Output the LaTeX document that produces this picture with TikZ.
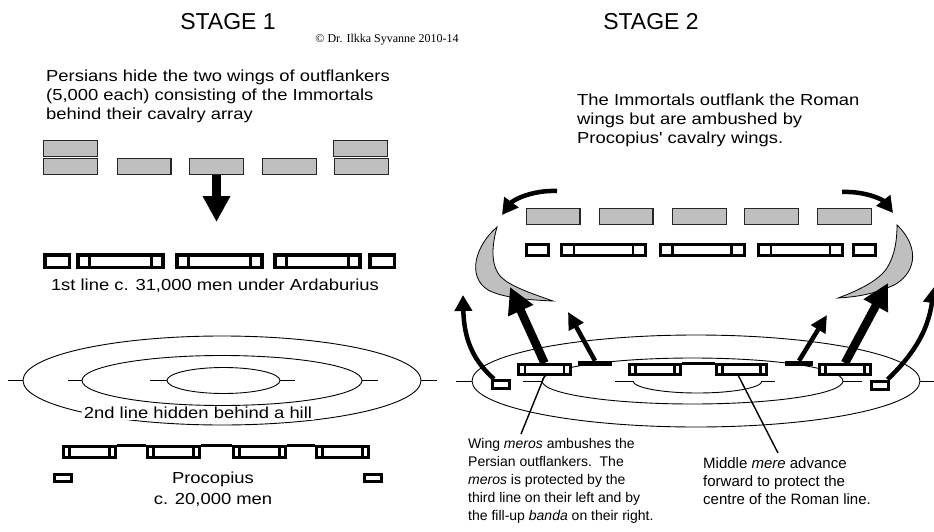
\documentclass[tikz,border=0pt]{standalone}
\usepackage{fontspec}
\setmainfont{Liberation Sans}
\newfontfamily\timesfont{Liberation Serif}
\newfontfamily\bodyfont[FakeStretch=1.15]{Liberation Sans}
\usetikzlibrary{arrows.meta}
\newcommand{\mydiv}[3][2.5pt]{%
  \draw[line width=#1] ([xshift=#3]#2.north west) -- ([xshift=#3]#2.south west);
  \draw[line width=#1] ([xshift=-#3]#2.north east) -- ([xshift=-#3]#2.south east);}
\begin{document}
\begin{tikzpicture}[x=1pt,y=-1pt,
  greybox/.style={draw=black!85, fill=black!25, line width=1.2pt, minimum width=53.8pt, minimum height=15.8pt, inner sep=0pt},
  romA/.style={draw, fill=white, line width=3.5pt, inner sep=0pt, minimum height=12.5pt},
  romB/.style={draw, fill=white, line width=3pt, inner sep=0pt, minimum height=11pt},
  romC/.style={draw, fill=white, line width=3pt, inner sep=0pt, minimum height=10pt, minimum width=51pt},
  smallbox/.style={draw, fill=white, line width=3pt, inner sep=0pt, minimum height=7.5pt, minimum width=17pt},
  bar/.style={fill=black, inner sep=0pt, minimum height=5pt},
  hill/.style={line width=0.9pt},
  title/.style={font=\fontsize{23}{27}\selectfont},
  body/.style={font=\bodyfont\fontsize{16}{19}\selectfont, inner sep=0pt},
  small/.style={font=\fontsize{14}{18}\selectfont, inner sep=0pt, align=left, anchor=north west},
  bigarrow/.style={line width=8.5pt, -{Triangle[width=26pt,length=26pt]}},
  midarrow/.style={line width=4.5pt, -{Triangle[width=16pt,length=17pt]}},
  curvearrow/.style={line width=4.5pt, -{Triangle[width=17pt,length=16pt]}},
  leader/.style={line width=1.4pt}]
\useasboundingbox (0,0) rectangle (934,532);

% ---------- titles ----------
\node[title] (st1) at (228,22) {STAGE 1};
\node[title] (st2) at (651,22) {STAGE 2};
\node[font=\timesfont\fontsize{12}{14}\selectfont, inner sep=0pt] (copy) at (387,40) {© Dr. Ilkka Syvanne 2010-14};

% ---------- STAGE 1 ----------
\node[body, align=left, anchor=north west] (txt1) at (46,70)
  {Persians hide the two wings of outflankers\\(5,000 each) consisting of the Immortals\\behind their cavalry array};

% Persian cavalry array
\node[greybox] (g1t) at (70.5,148.5) {};
\node[greybox] (g1b) at (70.5,166.5) {};
\node[greybox] (g2) at (144,166.5) {};
\node[greybox] (g3) at (216.5,166.5) {};
\node[greybox] (g4) at (289.5,166.5) {};
\node[greybox] (g5t) at (360.5,148.5) {};
\node[greybox] (g5b) at (361.5,166.5) {};

\coordinate (downtip) at (216.5,222);
\draw[bigarrow] (g3.south) -- (downtip);

% Roman first line
\node[romA, minimum width=24.5pt] (f1) at (57,261) {};
\node[romA, minimum width=85pt] (f2) at (120.5,261) {};
\node[romA, minimum width=85pt] (f3) at (219.5,261) {};
\node[romA, minimum width=85pt] (f4) at (317.5,261) {};
\node[romA, minimum width=24.5pt] (f5) at (382,261) {};
\mydiv[3pt]{f2}{13pt}
\mydiv[3pt]{f3}{13pt}
\mydiv[3pt]{f4}{13pt}
\node[body] (txt2) at (215,286) {1st line c. 31,000 men under Ardaburius};

% Hill
\draw[hill] (222,380.5) ellipse [x radius=199, y radius=44.5];
\draw[hill] (222,380.5) ellipse [x radius=140, y radius=25];
\draw[hill] (223.5,380.5) ellipse [x radius=56.5, y radius=13];
\draw[hill] (8,380.5) -- (23,380.5);
\draw[hill] (421,380.5) -- (437,380.5);
\draw[hill] (68,380.5) -- (82,380.5);
\draw[hill] (362,380.5) -- (378,380.5);
\draw[hill] (150,380.5) -- (167,380.5);
\draw[hill] (280,380.5) -- (295,380.5);
\node[body, fill=white, inner sep=1.5pt] (txt3) at (198,413) {2nd line hidden behind a hill};

% Roman second line
\node[romB, minimum width=52pt] (p1) at (89.5,452) {};
\node[romB, minimum width=52pt] (p2) at (173.5,452) {};
\node[romB, minimum width=52pt] (p3) at (259.5,452) {};
\node[romB, minimum width=52pt] (p4) at (342.5,452) {};
\mydiv{p1}{7.5pt}
\mydiv{p2}{7.5pt}
\mydiv{p3}{7.5pt}
\mydiv{p4}{7.5pt}
\draw[line width=3.5pt] ([yshift=-0.5pt]p1.north east) -- ([yshift=-0.5pt]p2.north west);
\draw[line width=3.5pt] ([yshift=-0.5pt]p2.north east) -- ([yshift=-0.5pt]p3.north west);
\draw[line width=3.5pt] ([yshift=-0.5pt]p3.north east) -- ([yshift=-0.5pt]p4.north west);
\node[smallbox] (q1) at (62.5,478) {};
\node[smallbox] (q2) at (372.5,478) {};
\node[body, align=center] (txt4) at (213,489.5) {Procopius\\[2pt]c. 20,000 men};

% ---------- STAGE 2 ----------
\node[body, align=left, anchor=north west] (txt5) at (577,94)
  {The Immortals outflank the Roman\\wings but are ambushed by\\Procopius' cavalry wings.};

% Persian cavalry array
\node[greybox] (h1) at (553,216.5) {};
\node[greybox] (h2) at (626,216.5) {};
\node[greybox] (h3) at (699.5,216.5) {};
\node[greybox] (h4) at (771.5,216.5) {};
\node[greybox] (h5) at (844.5,216.5) {};

\coordinate (a1s) at (557,191);
\coordinate (a1e) at (502,215);
\draw[curvearrow] (a1s) .. controls (532,190) and (513,200) .. (a1e);
\coordinate (a2s) at (842,192);
\coordinate (a2e) at (893,213);
\draw[curvearrow] (a2s) .. controls (866,191) and (883,200) .. (a2e);

% Roman first line
\node[romB, minimum width=22pt] (k1) at (537.5,250) {};
\node[romB, minimum width=84pt] (k2) at (603.5,250) {};
\node[romB, minimum width=84pt] (k3) at (702,250) {};
\node[romB, minimum width=84pt] (k4) at (800.5,250) {};
\node[romB, minimum width=22pt] (k5) at (864.5,250) {};
\mydiv{k2}{14pt}
\mydiv{k3}{14pt}
\mydiv{k4}{14pt}

% Immortals (crescents)
\draw[fill=black!25, line width=0.8pt] (497,227) .. controls (476,245) and (466,276) .. (488,290)
  .. controls (503,298) and (530,300) .. (553,301)
  .. controls (530,293) and (510,286) .. (501,277)
  .. controls (490,265) and (492,245) .. (497,227) -- cycle;
\draw[fill=black!25, line width=0.8pt] (897,225) .. controls (918,245) and (918,270) .. (896,284)
  .. controls (876,294) and (856,297) .. (838,298)
  .. controls (860,290) and (879,280) .. (887,268)
  .. controls (895,255) and (897,240) .. (897,225) -- cycle;

% Hill
\draw[hill] (696,381) ellipse [x radius=224, y radius=46];
\draw[hill] (692.5,381) ellipse [x radius=150.5, y radius=23];
\draw[hill] (633,381) arc[start angle=180, end angle=0, x radius=64.5, y radius=12];
\draw[hill] (456,381) -- (472,381);
\draw[hill] (920,381) -- (934,381);
\draw[hill] (523,381) -- (542,381);
\draw[hill] (843,381) -- (862,381);
\draw[hill] (615,381) -- (633,381);
\draw[hill] (762,381) -- (775,381);

% Roman troops
\node[romC, minimum width=52pt] (wl) at (544.5,369.5) {};
\node[romC] (c1) at (655,369.5) {};
\node[romC, minimum width=50pt] (c2) at (741.5,369.5) {};
\node[romC] (wr) at (845,369.5) {};
\mydiv{wl}{8pt}
\mydiv{c1}{7.5pt}
\mydiv{c2}{7.5pt}
\mydiv{wr}{7.5pt}
\draw[line width=3.5pt] ([yshift=-0.5pt]c1.north east) -- ([yshift=-0.5pt]c2.north west);
\node[bar, minimum width=34pt] (bl) at (595,363.5) {};
\node[bar, minimum width=28pt] (br) at (799,363.5) {};
\node[smallbox, minimum height=8pt] (sl) at (501,384.5) {};
\node[smallbox, minimum height=8pt] (sr) at (879.5,385) {};

% movements
\coordinate (tl1) at (463,295);
\draw[curvearrow] ([xshift=3pt]sl.north west) .. controls (475,362) and (464,342) .. (tl1);
\coordinate (tl2) at (510,287);
\draw[bigarrow] (wl.north) -- (tl2);
\coordinate (tl3) at (568,312);
\draw[midarrow] (bl.north) -- (tl3);
\coordinate (tr3) at (827,315);
\draw[midarrow] (br.north) -- (tr3);
\coordinate (tr2) at (888,283);
\draw[bigarrow] (wr.north) -- (tr2);
\coordinate (tr1) at (934,287);
\draw[curvearrow] ([xshift=-2pt]sr.north east) .. controls (912,356) and (928,332) .. (tr1);

% captions
\node[small] (txt6) at (468,438)
  {Wing \textit{meros} ambushes the\\Persian outflankers.\ \ The\\\textit{meros} is protected by the\\third line on their left and by\\the fill-up \textit{banda} on their right.};
\node[small, font=\fontsize{15}{18}\selectfont] (txt7) at (703,457)
  {Middle \textit{mere} advance\\forward to protect the\\centre of the Roman line.};
\draw[leader] (wl.south) -- (521,434);
\draw[leader] ([xshift=-3pt]c2.south) -- (778,453);
\end{tikzpicture}
\end{document}
